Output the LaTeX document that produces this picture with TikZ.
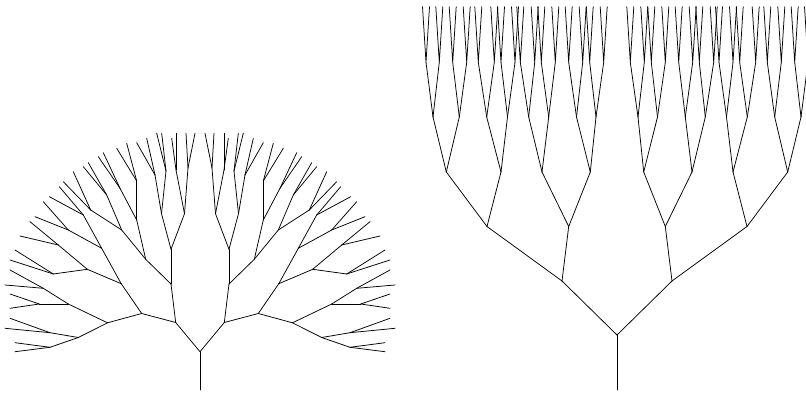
\documentclass[tikz,border=0pt]{standalone}
\tikzset{
    branch/.style={draw=black, line width=0.75pt, line cap=round, line join=round},
}
\begin{document}
\begin{tikzpicture}[x=1pt, y=-1pt]
\useasboundingbox (0,0) rectangle (806,395);

% ── Fan tree (left): left half listed, right half mirrored about x=200 ──
\coordinate (fanbase) at (200,390);
\coordinate (fanLF) at (200,351.7);
\coordinate (fanRF) at (200,351.7);
\draw[branch] (fanbase) -- (fanLF);
\foreach \n/\p/\x/\y in {
    a/F/175.7/322.5,
    aa/a/141.7/313.5, ab/a/171/284,
    aaa/aa/107.5/322.8, aab/aa/121.2/283.7, aba/ab/145.7/259.3, abb/ab/171/249.3,
    aaaa/aaa/78.3/337.5, aaab/aaa/68.3/304, aaba/aab/87.3/269.3, aabb/aab/101.7/248.3,
    abaa/aba/121.7/230, abab/aba/136.7/220, abba/abb/161.5/213.7, abbb/abb/184.5/213.7,
    aaaaa/aaaa/50/347.3, aaaab/aaaa/50/332.7, aaaba/aaab/39.3/304, aaabb/aaab/43.3/288.3,
    aabaa/aaba/53.3/274, aabab/aaba/58.3/245, aabba/aabb/68.3/230, aabbb/aabb/83.3/215,
    abaaa/abaa/90.7/210, abaab/abaa/106.7/195, ababa/abab/120/188.3, ababb/abab/136.7/181,
    abbaa/abba/155/175, abbab/abba/166/171, abbba/abbb/176/170, abbbb/abbb/188/168,
    aaaaaa/aaaaa/15/351.7, aaaaab/aaaaa/15/342.7,
    aaaaba/aaaab/5/328.3, aaaabb/aaaab/10/318.3,
    aaabaa/aaaba/10/308.3, aaabab/aaaba/10/294,
    aaabba/aaabb/5/285, aaabbb/aaabb/10/270,
    aabaaa/aabaa/10/260, aabaab/aabaa/15/250,
    aababa/aabab/20/236, aababb/aabab/30/221.7,
    aabbaa/aabba/35/216.7, aabbab/aabba/43.3/201.7,
    aabbba/aabbb/49.3/196.7, aabbbb/aabbb/59.3/186.7,
    abaaaa/abaaa/63.3/181.7, abaaab/abaaa/73.3/171.7,
    abaaba/abaab/83.3/166.7, abaabb/abaab/88.3/162.7,
    ababaa/ababa/98.3/156.7, ababab/ababa/103.3/152.7,
    ababba/ababb/116.7/148.3, ababbb/ababb/126.7/143.3,
    abbaaa/abbaa/136.7/142.7, abbaab/abbaa/146.7/138.3,
    abbaba/abbab/156.7/133.3, abbabb/abbab/161.7/133.3,
    abbbaa/abbba/171.7/138.3, abbbab/abbba/176/133.3,
    abbbba/abbbb/186/133.3, abbbbb/abbbb/195/133.3}{
  \coordinate (fanL\n) at (\x,\y);
  \coordinate (fanR\n) at ({400-\x},\y);
  \draw[branch] (fanL\p) -- (fanL\n);
  \draw[branch] (fanR\p) -- (fanR\n);
}

% ── Layered tree (right): offsets from x=617, mirrored ──
\coordinate (laybase) at (617,390);
\coordinate (layLF) at (617,335);
\coordinate (layRF) at (617,335);
\draw[branch] (laybase) -- (layLF);
\foreach \n/\p/\o/\y in {
    a/F/55/281,
    aa/a/130/226.5, ab/a/48.3/226.5,
    aaa/aa/170.7/172, aab/aa/116/172, aba/ab/75/172, abb/ab/26.7/172,
    aaaa/aaa/184/117, aaab/aaa/157.7/117, aaba/aab/130.3/117, aabb/aab/109.5/117,
    abaa/aba/88.3/117, abab/aba/68.3/117, abba/abb/40.5/117, abbb/abb/21/117}{
  \coordinate (layL\n) at ({617-\o},\y);
  \coordinate (layR\n) at ({617+\o},\y);
  \draw[branch] (layL\p) -- (layL\n);
  \draw[branch] (layR\p) -- (layR\n);
}
% last fork level, each with its pair of leaves
\foreach \n/\p/\o in {
    aaaaa/aaaa/191, aaaab/aaaa/177.7, aaaba/aaab/164.3, aaabb/aaab/150.3,
    aabaa/aaba/138.7, aabab/aaba/122.7, aabba/aabb/116, aabbb/aabb/102,
    abaaa/abaa/96.7, abaab/abaa/82.3, ababa/abab/75.7, ababb/abab/61.7,
    abbaa/abba/48.3, abbab/abba/34.3, abbba/abbb/27.3, abbbb/abbb/13.3}{
  \coordinate (layL\n) at ({617-\o},62.3);
  \coordinate (layR\n) at ({617+\o},62.3);
  \coordinate (layL\n a) at ({617-\o-3.5},6.7);
  \coordinate (layL\n b) at ({617-\o+3.5},6.7);
  \coordinate (layR\n a) at ({617+\o+3.5},6.7);
  \coordinate (layR\n b) at ({617+\o-3.5},6.7);
  \draw[branch] (layL\p) -- (layL\n);
  \draw[branch] (layR\p) -- (layR\n);
  \draw[branch] (layL\n a) -- (layL\n) -- (layL\n b);
  \draw[branch] (layR\n a) -- (layR\n) -- (layR\n b);
}
\end{tikzpicture}
\end{document}
